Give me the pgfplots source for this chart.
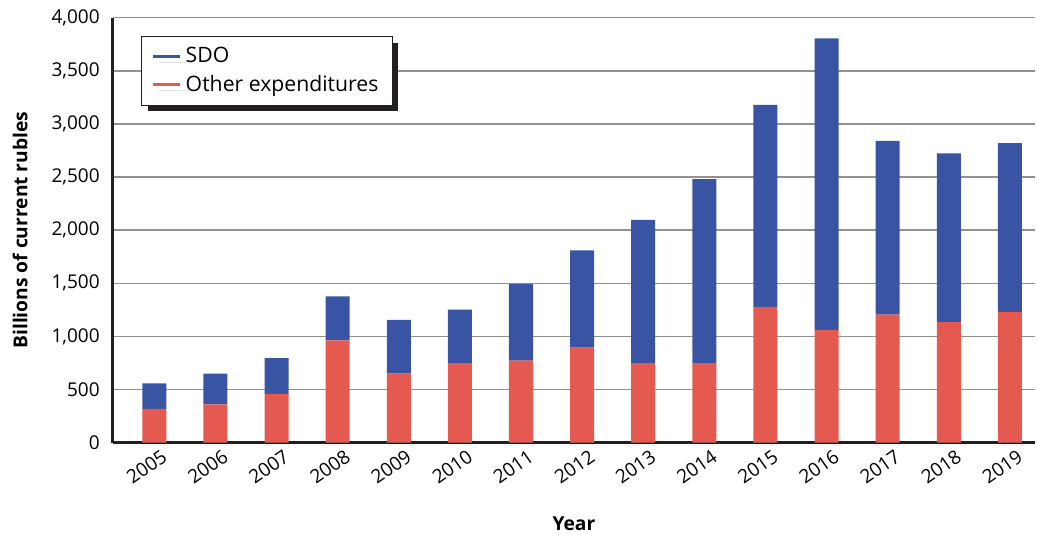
\documentclass[border=0pt]{standalone}
\usepackage{fontspec}
\setmainfont{Open Sans}
\usepackage{pgfplots}
\pgfplotsset{compat=1.18}
\usetikzlibrary{shadows}
\definecolor{sdoblue}{RGB}{58,84,164}
\definecolor{otherred}{RGB}{229,90,80}
\definecolor{gridgray}{RGB}{145,145,145}
\definecolor{axblack}{RGB}{35,31,32}
\pgfplotstableread{
x other sdo
0 318 240
1 362 289
2 459 336
3 964 412
4 651 504
5 748 505
6 773 721
7 895 914
8 748 1349
9 748 1732
10 1278 1902
11 1061 2744
12 1206 1635
13 1134 1588
14 1228 1591
}\datatable
\begin{document}
\begin{tikzpicture}
\begin{axis}[
  name=a,
  scale only axis,
  width=461bp, height=212.5bp,
  ybar stacked,
  bar width=12bp,
  xmin=-0.68, xmax=14.41,
  ymin=0, ymax=4000,
  ytick={0,500,...,4000},
  xtick=data,
  xticklabels={2005,2006,2007,2008,2009,2010,2011,2012,2013,2014,2015,2016,2017,2018,2019},
  major tick length=0pt,
  axis x line*=bottom,
  axis y line*=left,
  axis line style={line width=1.6bp, axblack, -},
  ymajorgrids,
  grid style={line width=0.8bp, gridgray},
  /pgf/number format/.cd, 1000 sep={,}, assume math mode=true,
  /pgfplots/.cd,
  yticklabel style={font=\fontsize{9.5bp}{11bp}\selectfont, xshift=-3bp},
  xticklabel style={font=\fontsize{9.5bp}{11bp}\selectfont, rotate=35, anchor=north east, inner sep=1bp, yshift=-3bp, xshift=2bp},
  ylabel={Billions of current rubles},
  ylabel style={font=\fontsize{9.6bp}{11bp}\selectfont\bfseries, at={(axis description cs:-0.1004,0.5)}, anchor=center},
  xlabel={Year},
  xlabel style={font=\fontsize{9.6bp}{11bp}\selectfont\bfseries, at={(axis description cs:0.5,-0.1897)}, anchor=center},
  reverse legend,
  legend cell align=left,
  legend style={at={(axis description cs:0.0307,0.9567)}, anchor=north west,
    draw=axblack, line width=0.5bp, fill=white,
    font=\fontsize{10.6bp}{12.5bp}\selectfont,
    inner xsep=5bp, inner ysep=3.5bp,
    row sep=0.6bp,
    drop shadow={shadow xshift=3bp, shadow yshift=-3bp, fill=axblack, opacity=1}},
]
\addplot[fill=otherred, draw=none,
  legend image code/.code={\draw[line width=1.6bp, otherred] (0bp,0bp) -- (13.5bp,0bp);}]
  table[x=x, y=other] {\datatable};
\addlegendentry{Other expenditures}
\addplot[fill=sdoblue, draw=none,
  legend image code/.code={\draw[line width=1.6bp, sdoblue] (0bp,0bp) -- (13.5bp,0bp);}]
  table[x=x, y=sdo] {\datatable};
\addlegendentry{SDO}
\end{axis}
\pgfresetboundingbox
\path[use as bounding box] ([xshift=-56.35bp,yshift=-46.3bp]a.south west) rectangle ([xshift=1bp,yshift=8.8bp]a.north east);
\end{tikzpicture}
\end{document}
